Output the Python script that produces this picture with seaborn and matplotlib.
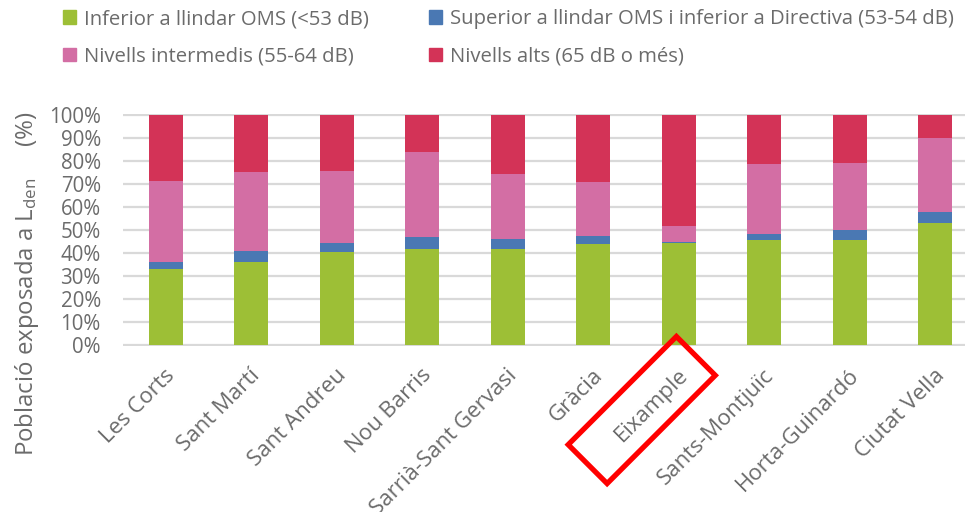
import numpy as np
import pandas as pd
import matplotlib.pyplot as plt
import matplotlib.transforms as mtransforms
import seaborn as sns
from matplotlib.patches import Patch, Rectangle

# Data (percent of population per noise level)
districts = ["Les Corts", "Sant Martí", "Sant Andreu", "Nou Barris",
             "Sarrià-Sant Gervasi", "Gràcia", "Eixample", "Sants-Montjuïc",
             "Horta-Guinardó", "Ciutat Vella"]
below_who = [33.0, 36.0, 40.6, 41.9, 41.9, 43.9, 44.3, 45.7, 45.7, 53.2]
who_to_directive = [3.2, 4.9, 3.9, 5.1, 4.2, 3.5, 0.4, 2.6, 4.3, 4.6]
intermediate = [35.2, 34.3, 31.2, 36.8, 28.2, 23.5, 7.2, 30.3, 29.0, 32.1]
high = [28.6, 24.8, 24.3, 16.2, 25.7, 29.1, 48.1, 21.4, 21.0, 10.1]

series = ["Inferior a llindar OMS (<53 dB)",
          "Superior a llindar OMS i inferior a Directiva (53-54 dB)",
          "Nivells intermedis (55-64 dB)",
          "Nivells alts (65 dB o més)"]
colors = ["#9dbf36", "#4a78b3", "#d36ea4", "#d33357"]
highlight = "Eixample"

sns.set_style("white")
plt.rcParams["font.family"] = ["Open Sans", "DejaVu Sans"]
plt.rcParams["mathtext.default"] = "regular"
grey = "#6b6b6b"

df = pd.DataFrame({"district": districts, series[0]: below_who,
                   series[1]: who_to_directive, series[2]: intermediate,
                   series[3]: high})
cum = df[series].cumsum(axis=1)

fig = plt.figure(figsize=(9.65, 5.12), dpi=100)
ax = fig.add_axes([123 / 965, 1 - 345.7 / 512, (978 - 123) / 965, 231.4 / 512])

# stacked bars: draw cumulative totals from the top layer down
for name, col in reversed(list(zip(series, colors))):
    sns.barplot(x=df["district"], y=cum[name], color=col, width=0.4,
                saturation=1, linewidth=0, edgecolor="none", ax=ax, zorder=3)

ax.set_ylim(-0.3, 100.3)
ax.set_xlim(-0.5, 9.5)
ax.set_yticks(np.arange(0, 101, 10))
ax.set_yticklabels([f"{v}%" for v in range(0, 101, 10)])
ax.yaxis.grid(True, color="#d9d9d9", lw=1.6)
ax.set_axisbelow(True)
sns.despine(ax=ax, left=True, right=True, top=True, bottom=True)
ax.tick_params(axis="y", length=0, pad=16, labelsize=14.8, labelcolor=grey)
ax.tick_params(axis="x", length=0, pad=19, labelsize=16, labelcolor=grey)
ax.set_xlabel("")
ax.set_ylabel("")
shift = mtransforms.ScaledTranslation(6 / 100, 0, fig.dpi_scale_trans)
for lab in ax.get_xticklabels():
    lab.set_rotation(45)
    lab.set_ha("right")
    lab.set_va("center")
    lab.set_rotation_mode("anchor")
    lab.set_transform(lab.get_transform() + shift)

# red frame around the highlighted district label
idx = districts.index(highlight)
box_tr = (mtransforms.Affine2D().rotate_deg(45).translate(-37, -65)
          + mtransforms.ScaledTranslation(idx, 0, ax.transData))
ax.add_patch(Rectangle((-76.5, -27.5), 153, 55, transform=box_tr,
                       facecolor="none", edgecolor="#ff0000", lw=3.8,
                       clip_on=False, zorder=10))

fig.text(0.028, 0.445, r"Població exposada a L$_{den}$     (%)", rotation=90,
         ha="center", va="center", fontsize=17.3, color=grey)

handles = [Patch(color=colors[0]), Patch(color=colors[2]),
           Patch(color=colors[1]), Patch(color=colors[3])]
labels = [series[0], series[2], series[1], series[3]]
fig.legend(handles, labels, ncol=2, loc="upper left",
           bbox_to_anchor=(0.0463, 1.0176), frameon=False, fontsize=14.6,
           labelcolor=grey, handlelength=0.65, handleheight=0.65,
           handletextpad=0.4, columnspacing=2.95, labelspacing=0.85)

fig.savefig("out.png", dpi=100)
